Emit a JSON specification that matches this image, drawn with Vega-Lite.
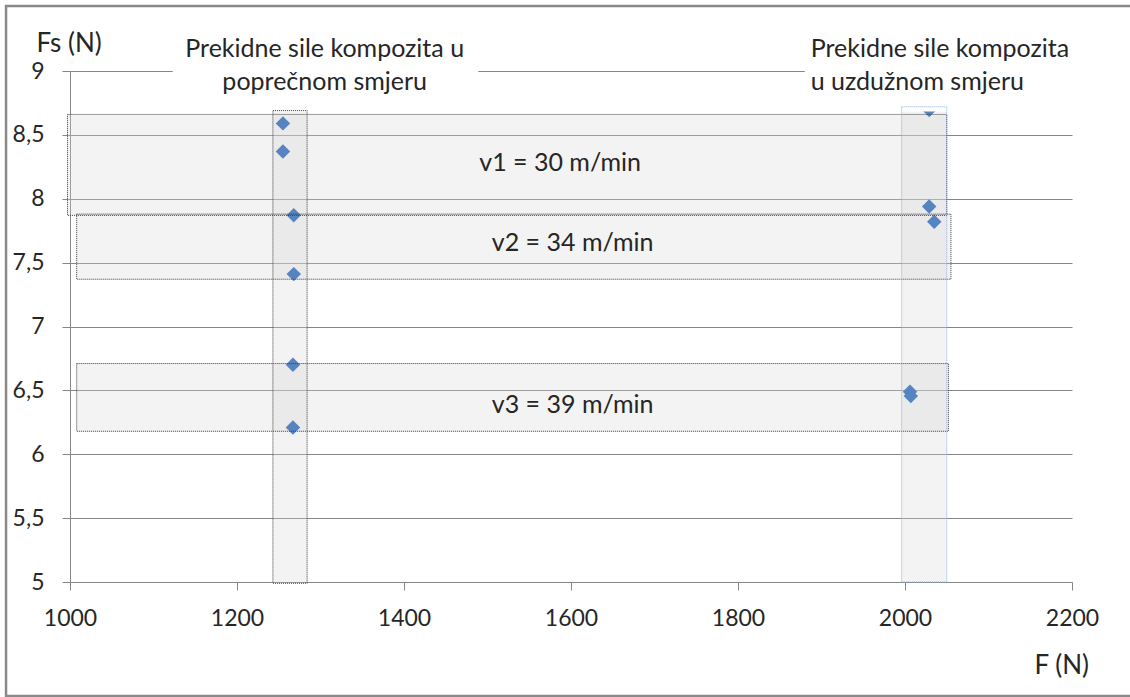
{
  "$schema": "https://vega.github.io/schema/vega-lite/v6.json",
  "width": 1002,
  "height": 511,
  "autosize": {"type": "none"},
  "padding": {"left": 70, "top": 71, "right": 58, "bottom": 115},
  "background": "white",
  "config": {
    "view": {"stroke": null},
    "font": "Lato",
    "axis": {"titleFontSize": 26, "titleFontWeight": "normal", "titleColor": "#262626"}
  },
  "datasets": {
    "boxes": [
      {"name": "v1", "kind": "dark", "x": 997, "x2": 2050, "y": 8.66, "y2": 7.87},
      {"name": "v2", "kind": "dark", "x": 1008, "x2": 2055, "y": 7.88, "y2": 7.37},
      {"name": "v3", "kind": "dark", "x": 1008, "x2": 2052, "y": 6.71, "y2": 6.18},
      {"name": "poprecni", "kind": "dark", "x": 1243, "x2": 1284, "y": 8.69, "y2": 4.99},
      {"name": "uzduzni", "kind": "blue", "x": 1996, "x2": 2050, "y": 8.72, "y2": 5.0}
    ],
    "points": [
      {"F": 1255, "Fs": 8.59},
      {"F": 1255, "Fs": 8.37},
      {"F": 1268, "Fs": 7.87},
      {"F": 1268, "Fs": 7.41},
      {"F": 1267, "Fs": 6.70},
      {"F": 1267, "Fs": 6.21},
      {"F": 2029, "Fs": 8.695},
      {"F": 2029, "Fs": 7.94},
      {"F": 2035, "Fs": 7.82},
      {"F": 2006, "Fs": 6.49},
      {"F": 2007, "Fs": 6.455}
    ],
    "labelBoxes": [
      {"x": 1123, "x2": 1489, "y": 9.35, "y2": 8.683},
      {"x": 1880, "x2": 2230, "y": 9.35, "y2": 8.683}
    ],
    "speeds": [
      {"label": "v1 = 30 m/min", "x": 1587, "y": 8.28},
      {"label": "v2 = 34 m/min", "x": 1602, "y": 7.656},
      {"label": "v3 = 39 m/min", "x": 1602, "y": 6.385}
    ],
    "notesCenter": [
      {"label": "Prekidne sile kompozita u\npoprečnom smjeru", "x": 1305, "y": 9.17}
    ],
    "notesLeft": [
      {"label": "Prekidne sile kompozita\nu uzdužnom smjeru", "x": 1887, "y": 9.17}
    ],
    "frame": [
      {"x": 923.4, "x2": 2278, "y": 9.509, "y2": 4.108}
    ]
  },
  "layer": [
    {
      "data": {"name": "boxes"},
      "mark": {"type": "rect", "fill": "#d6d6d6", "fillOpacity": 0.3, "strokeWidth": 0},
      "encoding": {
        "x": {
          "field": "x", "type": "quantitative",
          "scale": {"domain": [1000, 2200], "nice": false, "zero": false},
          "axis": {
            "values": [1000, 1200, 1400, 1600, 1800, 2000, 2200],
            "format": "d",
            "grid": false,
            "domainColor": "#868686",
            "tickColor": "#868686",
            "tickSize": 8,
            "labelFontSize": 23,
            "labelColor": "#262626",
            "labelPadding": 17,
            "labelFlush": false,
            "labelOverlap": false,
            "title": "F (N)",
            "titleFontSize": 26,
            "titleFontWeight": "normal",
            "titleColor": "#262626",
            "titleAlign": "left",
            "titleBaseline": "middle",
            "titleAnchor": "start",
            "titleX": 964,
            "titleY": 83
          }
        },
        "x2": {"field": "x2"},
        "y": {
          "field": "y", "type": "quantitative",
          "scale": {"domain": [5, 9], "nice": false, "zero": false},
          "axis": {
            "values": [5, 5.5, 6, 6.5, 7, 7.5, 8, 8.5, 9],
            "labelExpr": "replace(toString(datum.value), '.', ',')",
            "grid": true,
            "gridColor": "#868686",
            "gridWidth": 1,
            "domainColor": "#868686",
            "tickColor": "#868686",
            "tickSize": 8,
            "labelFontSize": 23,
            "labelColor": "#262626",
            "labelPadding": 18,
            "labelOverlap": false,
            "title": "Fs (N)",
            "titleFontSize": 26,
            "titleFontWeight": "normal",
            "titleColor": "#262626",
            "titleAngle": 0,
            "titleAlign": "left",
            "titleBaseline": "middle",
            "titleAnchor": "start",
            "titleX": -34,
            "titleY": -28
          }
        },
        "y2": {"field": "y2"}
      }
    },
    {
      "data": {"name": "points"},
      "mark": {"type": "point", "shape": "diamond", "filled": true, "size": 210, "color": "#5584c0", "opacity": 1},
      "encoding": {
        "x": {"field": "F", "type": "quantitative", "scale": {"domain": [1000, 2200], "nice": false, "zero": false}},
        "y": {"field": "Fs", "type": "quantitative", "scale": {"domain": [5, 9], "nice": false, "zero": false}}
      }
    },
    {
      "data": {"name": "labelBoxes"},
      "mark": {"type": "rect", "fill": "white", "strokeWidth": 0},
      "encoding": {
        "x": {"field": "x", "type": "quantitative", "scale": {"domain": [1000, 2200], "nice": false, "zero": false}},
        "x2": {"field": "x2"},
        "y": {"field": "y", "type": "quantitative", "scale": {"domain": [5, 9], "nice": false, "zero": false}},
        "y2": {"field": "y2"}
      }
    },
    {
      "data": {"name": "boxes"},
      "transform": [{"filter": "datum.kind === 'dark'"}],
      "mark": {"type": "rect", "fill": null, "stroke": "#3a3a3a", "strokeWidth": 1, "strokeDash": [1, 1]},
      "encoding": {
        "x": {"field": "x", "type": "quantitative", "scale": {"domain": [1000, 2200], "nice": false, "zero": false}},
        "x2": {"field": "x2"},
        "y": {"field": "y", "type": "quantitative", "scale": {"domain": [5, 9], "nice": false, "zero": false}},
        "y2": {"field": "y2"}
      }
    },
    {
      "data": {"name": "boxes"},
      "transform": [{"filter": "datum.kind === 'blue'"}],
      "mark": {"type": "rect", "fill": null, "stroke": "#8fadd4", "strokeWidth": 1, "strokeDash": [1, 1]},
      "encoding": {
        "x": {"field": "x", "type": "quantitative", "scale": {"domain": [1000, 2200], "nice": false, "zero": false}},
        "x2": {"field": "x2"},
        "y": {"field": "y", "type": "quantitative", "scale": {"domain": [5, 9], "nice": false, "zero": false}},
        "y2": {"field": "y2"}
      }
    },
    {
      "data": {"name": "speeds"},
      "mark": {"type": "text", "fontSize": 25, "color": "#262626", "align": "center", "baseline": "middle"},
      "encoding": {
        "x": {"field": "x", "type": "quantitative", "scale": {"domain": [1000, 2200], "nice": false, "zero": false}},
        "y": {"field": "y", "type": "quantitative", "scale": {"domain": [5, 9], "nice": false, "zero": false}},
        "text": {"field": "label"}
      }
    },
    {
      "data": {"name": "notesCenter"},
      "mark": {"type": "text", "fontSize": 25, "color": "#262626", "align": "center", "baseline": "middle", "lineBreak": "\n", "lineHeight": 33},
      "encoding": {
        "x": {"field": "x", "type": "quantitative", "scale": {"domain": [1000, 2200], "nice": false, "zero": false}},
        "y": {"field": "y", "type": "quantitative", "scale": {"domain": [5, 9], "nice": false, "zero": false}},
        "text": {"field": "label"}
      }
    },
    {
      "data": {"name": "notesLeft"},
      "mark": {"type": "text", "fontSize": 25, "color": "#262626", "align": "left", "baseline": "middle", "lineBreak": "\n", "lineHeight": 33},
      "encoding": {
        "x": {"field": "x", "type": "quantitative", "scale": {"domain": [1000, 2200], "nice": false, "zero": false}},
        "y": {"field": "y", "type": "quantitative", "scale": {"domain": [5, 9], "nice": false, "zero": false}},
        "text": {"field": "label"}
      }
    },
    {
      "data": {"name": "frame"},
      "mark": {"type": "rect", "fill": null, "stroke": "#8a8a8a", "strokeWidth": 2.5},
      "encoding": {
        "x": {"field": "x", "type": "quantitative", "scale": {"domain": [1000, 2200], "nice": false, "zero": false}},
        "x2": {"field": "x2"},
        "y": {"field": "y", "type": "quantitative", "scale": {"domain": [5, 9], "nice": false, "zero": false}},
        "y2": {"field": "y2"}
      }
    }
  ]
}
